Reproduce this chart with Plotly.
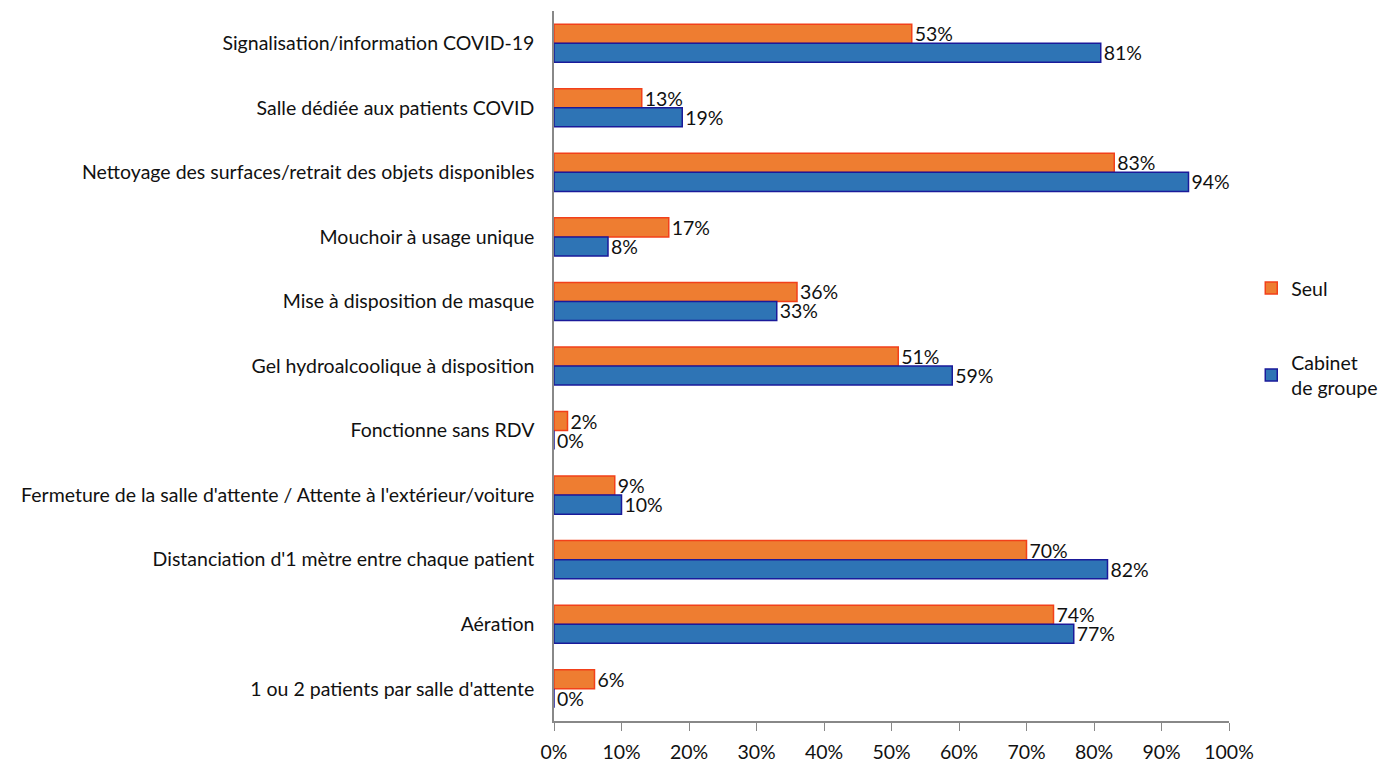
import plotly.graph_objects as go

categories = [
    "Signalisation/information COVID-19",
    "Salle dédiée aux patients COVID",
    "Nettoyage des surfaces/retrait des objets disponibles",
    "Mouchoir à usage unique",
    "Mise à disposition de masque",
    "Gel hydroalcoolique à disposition",
    "Fonctionne sans RDV",
    "Fermeture de la salle d'attente / Attente à l'extérieur/voiture",
    "Distanciation d'1 mètre entre chaque patient",
    "Aération",
    "1 ou 2 patients par salle d'attente",
]
seul = [53, 13, 83, 17, 36, 51, 2, 9, 70, 74, 6]
cabinet = [81, 19, 94, 8, 33, 59, 0, 10, 82, 77, 0]
x_ticks = [0, 10, 20, 30, 40, 50, 60, 70, 80, 90, 100]

FONT = "Lato, sans-serif"
FS = 19.5

fig = go.Figure()
fig.add_trace(go.Bar(
    y=categories, x=seul, orientation="h", name="Seul", legendgroup="a",
    marker=dict(color="#EE7D31", line=dict(color="#F2401A", width=1.5)),
    text=[f"{v}%" for v in seul], textposition="outside", cliponaxis=False,
    constraintext="none",
    textfont=dict(size=FS, color="#111111", family=FONT),
))
fig.add_trace(go.Bar(
    y=categories, x=cabinet, orientation="h", name="Cabinet<br>de groupe",
    legendgroup="b",
    marker=dict(color="#2E74B5", line=dict(color="#1A1A9A", width=1.5)),
    text=[f"{v}%" for v in cabinet], textposition="outside", cliponaxis=False,
    constraintext="none",
    textfont=dict(size=FS, color="#111111", family=FONT),
))

fig.update_layout(
    width=1377, height=760,
    barmode="group", bargap=0.41, bargroupgap=0,
    plot_bgcolor="white", paper_bgcolor="white",
    font=dict(family=FONT, size=FS, color="#111111"),
    margin=dict(l=546, r=156, t=3, b=47, autoexpand=False),
    showlegend=True,
    legend=dict(x=1.033, y=0.637, xanchor="left", yanchor="top",
                font=dict(size=FS, family=FONT), tracegroupgap=46,
                itemwidth=30),
    xaxis=dict(range=[0, 100], tickvals=x_ticks,
               ticktext=[f"{v}%" for v in x_ticks],
               showgrid=False, zeroline=False, showline=True,
               linecolor="#888888", linewidth=1.5,
               ticks="outside", ticklen=8, tickcolor="#888888",
               ticklabelstandoff=5,
               tickfont=dict(size=FS), automargin=False),
    yaxis=dict(autorange="reversed", showgrid=False, showline=True,
               linecolor="#888888", linewidth=1.5, ticks="",
               ticklabelstandoff=14, tickfont=dict(size=FS), automargin=False),
)

fig.write_html("out.html")
